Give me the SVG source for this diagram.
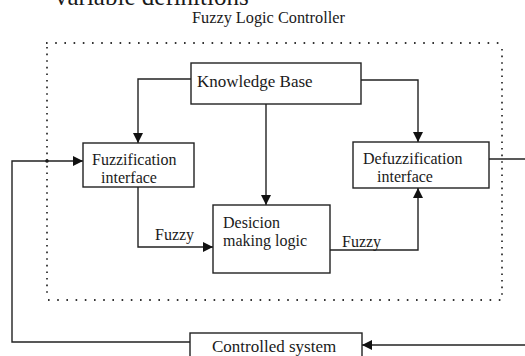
<svg xmlns="http://www.w3.org/2000/svg" width="525" height="356" viewBox="0 0 525 356">
<style>
text{font-family:"Liberation Serif","Times New Roman",serif;fill:#1a1a1a;font-size:16px}
.box{fill:#fff;stroke:#222;stroke-width:1.4}
.ln{fill:none;stroke:#222;stroke-width:1.4}
.dh{fill:none;stroke:#333;stroke-width:1.8;stroke-dasharray:1.6 7.6}
.dv{fill:none;stroke:#333;stroke-width:1.8;stroke-dasharray:1.6 5}
</style>
<defs>
<marker id="ah" viewBox="0 0 10 10" refX="10" refY="5" markerWidth="10" markerHeight="10" markerUnits="userSpaceOnUse" orient="auto">
<path d="M0,0 L10,5 L0,10 Z" fill="#111"/>
</marker>
</defs>
<rect width="525" height="356" fill="#fff"/>
<text x="55" y="5" style="font-size:25px">variable definitions</text>
<text x="192" y="23" style="font-size:16.3px">Fuzzy Logic Controller</text>
<g id="frame">
<line class="dh" x1="46" y1="43" x2="502" y2="43"/>
<line class="dh" x1="48" y1="300" x2="502" y2="300"/>
<line class="dv" x1="47" y1="47" x2="47" y2="296"/>
<line class="dv" x1="502" y1="49" x2="502" y2="296"/>
<circle cx="47" cy="161" r="1.8" fill="#111"/>
</g>
<g id="connectors">
<polyline class="ln" points="191,79 138,79 138,143" marker-end="url(#ah)"/>
<polyline class="ln" points="361,80 418,80 418,142" marker-end="url(#ah)"/>
<line class="ln" x1="266" y1="104" x2="266" y2="205" marker-end="url(#ah)"/>
<polyline class="ln" points="138,187 138,247 213,247" marker-end="url(#ah)"/>
<polyline class="ln" points="330,250 418,250 418,188" marker-end="url(#ah)"/>
<polyline class="ln" points="190,342 12,342 12,161 83,161" marker-end="url(#ah)"/>
<line class="ln" x1="489" y1="159" x2="525" y2="159"/>
<line class="ln" x1="525" y1="345" x2="362" y2="345" marker-end="url(#ah)"/>
<text x="155" y="240">Fuzzy</text>
<text x="342" y="247">Fuzzy</text>
</g>
<g id="kb">
<rect class="box" x="191" y="63" width="170" height="41"/>
<text x="197" y="87" style="font-size:17px">Knowledge Base</text>
</g>
<g id="fuzzification">
<rect class="box" x="83" y="143" width="111" height="44"/>
<text x="92" y="165">Fuzzification</text>
<text x="101" y="183">interface</text>
</g>
<g id="defuzzification">
<rect class="box" x="353" y="142" width="136" height="46"/>
<text x="363" y="164">Defuzzification</text>
<text x="377" y="182">interface</text>
</g>
<g id="decision">
<rect class="box" x="213" y="205" width="117" height="68"/>
<text x="223" y="228">Desicion</text>
<text x="223" y="246">making logic</text>
</g>
<g id="controlled">
<rect class="box" x="190" y="333" width="172" height="30"/>
<text x="212" y="352" style="font-size:17px">Controlled system</text>
</g>
</svg>
